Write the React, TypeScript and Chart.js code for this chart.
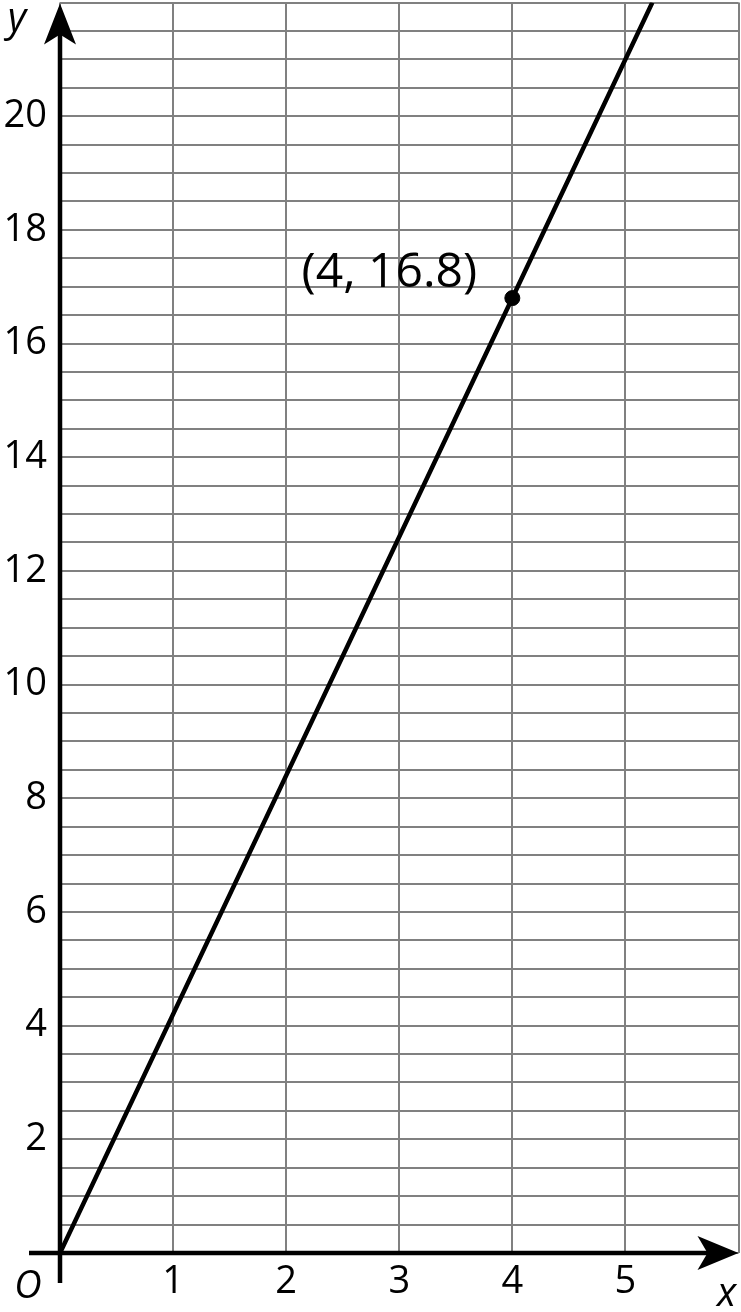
import React, { useRef, useEffect } from 'react';
import { Chart, registerables } from 'chart.js';
import type { Plugin } from 'chart.js';

Chart.register(...registerables);

// line y = 4.2x, drawn from the origin to the top of the grid
const lineX: number[] = [0, 4, 5.238];
const lineY: number[] = [0, 16.8, 22];

// the marked point
const pointX: number[] = [4];
const pointY: number[] = [16.8];
const pointLabel = '(4, 16.8)';

// axis ranges and labelled ticks
const xMax = 6;
const yMax = 22;
const xTickLabels: number[] = [1, 2, 3, 4, 5];
const yTickLabels: number[] = [2, 4, 6, 8, 10, 12, 14, 16, 18, 20];

const FONT = '"Open Sans", "DejaVu Sans", sans-serif';
// chart.js keeps a few px of room at top/right, the canvas is shifted to hide it
const SHIFT = 6;

const axesPlugin: Plugin<'scatter'> = {
    id: 'arrowAxes',
    afterDatasetsDraw(chart: any) {
        const ctx = chart.ctx;
        const xs = chart.scales.x;
        const ys = chart.scales.y;
        const x0 = xs.getPixelForValue(0);
        const y0 = ys.getPixelForValue(0);
        const right = chart.chartArea.right;
        const top = chart.chartArea.top;

        ctx.save();
        ctx.strokeStyle = '#000';
        ctx.fillStyle = '#000';
        ctx.lineWidth = 4.5;
        ctx.lineCap = 'butt';

        // y axis
        ctx.beginPath();
        ctx.moveTo(x0, y0 + 30);
        ctx.lineTo(x0, top + 30);
        ctx.stroke();
        ctx.beginPath();
        ctx.moveTo(x0, top + 1);
        ctx.lineTo(x0 + 16, top + 42);
        ctx.lineTo(x0, top + 32);
        ctx.lineTo(x0 - 16, top + 42);
        ctx.closePath();
        ctx.fill();

        // x axis
        ctx.beginPath();
        ctx.moveTo(x0 - 31, y0);
        ctx.lineTo(right - 30, y0);
        ctx.stroke();
        ctx.beginPath();
        ctx.moveTo(right, y0);
        ctx.lineTo(right - 41, y0 - 17);
        ctx.lineTo(right - 31, y0);
        ctx.lineTo(right - 41, y0 + 17);
        ctx.closePath();
        ctx.fill();

        // axis names and origin
        ctx.font = `italic 40px ${FONT}`;
        ctx.textAlign = 'center';
        ctx.textBaseline = 'alphabetic';
        ctx.fillText('y', 17, top + 28);
        ctx.fillText('x', right - 12, y0 + 53);
        ctx.font = `italic 38px ${FONT}`;
        ctx.fillText('O', x0 - 32, y0 + 45);

        // point label
        const meta = chart.getDatasetMeta(1);
        const pt = meta.data[0];
        if (pt) {
            ctx.font = `48px ${FONT}`;
            ctx.textAlign = 'center';
            ctx.textBaseline = 'alphabetic';
            ctx.fillText(pointLabel, pt.x - 123, pt.y - 11);
        }
        ctx.restore();
    }
};

const App: React.FC = () => {
    const canvasRef = useRef<HTMLCanvasElement | null>(null);

    useEffect(() => {
        document.body.style.margin = '0';
        const ctx = canvasRef.current?.getContext('2d');
        if (!ctx) return;

        const chart = new Chart(ctx, {
            type: 'scatter',
            data: {
                datasets: [
                    {
                        label: 'line',
                        data: lineX.map((x, i) => ({ x, y: lineY[i] })),
                        showLine: true,
                        borderColor: '#000',
                        borderWidth: 4.5,
                        pointRadius: 0,
                        order: 2
                    },
                    {
                        label: 'point',
                        data: pointX.map((x, i) => ({ x, y: pointY[i] })),
                        backgroundColor: '#000',
                        borderColor: '#000',
                        pointRadius: 7.5,
                        order: 1
                    }
                ]
            },
            options: {
                animation: false,
                responsive: true,
                maintainAspectRatio: false,
                layout: { padding: { top: 2, right: 2, left: 0, bottom: 0 } },
                plugins: {
                    legend: { display: false },
                    tooltip: { enabled: false }
                },
                scales: {
                    x: {
                        type: 'linear',
                        min: 0,
                        max: xMax,
                        border: { display: false },
                        grid: { color: '#808080', lineWidth: 2, drawTicks: false },
                        afterFit: (scale: any) => {
                            scale.height = 59;
                            scale.paddingLeft = 0;
                            scale.paddingRight = 0;
                        },
                        ticks: {
                            stepSize: 1,
                            autoSkip: false,
                            maxRotation: 0,
                            padding: 6,
                            color: '#000',
                            font: { family: FONT, size: 38 },
                            callback: (v: any) => (xTickLabels.includes(Number(v)) ? String(v) : '')
                        }
                    },
                    y: {
                        type: 'linear',
                        min: 0,
                        max: yMax,
                        border: { display: false },
                        grid: { color: '#808080', lineWidth: 2, drawTicks: false },
                        afterFit: (scale: any) => {
                            scale.width = 60;
                            scale.paddingTop = 0;
                            scale.paddingBottom = 0;
                        },
                        ticks: {
                            stepSize: 0.5,
                            autoSkip: false,
                            padding: 13,
                            color: '#000',
                            font: { family: FONT, size: 38 },
                            callback: (v: any) => (yTickLabels.includes(Number(v)) ? String(v) : '')
                        }
                    }
                }
            },
            plugins: [axesPlugin]
        });

        return () => {
            chart.destroy();
        };
    }, []);

    return (
        <div style={{ width: 741, height: 1312, overflow: 'hidden', position: 'relative' }}>
            <div style={{ position: 'absolute', left: 0, top: -SHIFT, width: 741 + SHIFT, height: 1312 + SHIFT }}>
                <canvas ref={canvasRef} />
            </div>
        </div>
    );
};

export default App;
